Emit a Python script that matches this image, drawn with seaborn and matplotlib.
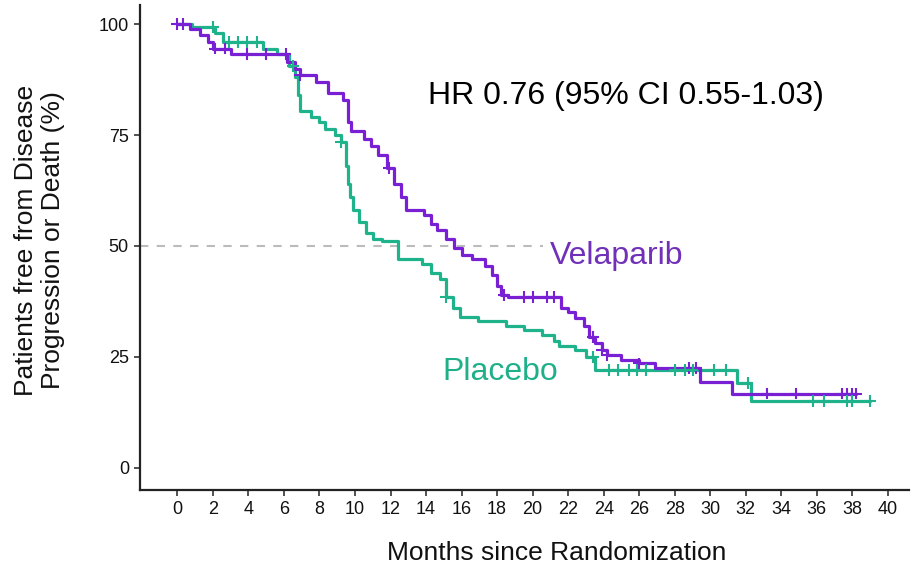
import numpy as np
import pandas as pd
import matplotlib
matplotlib.use("Agg")
import matplotlib.pyplot as plt
import seaborn as sns

# ---- data ----
vel_t = [0, 0.7, 1.3, 1.7, 2.0, 3.0, 6.2, 6.6, 6.9, 7.8, 8.5, 9.3, 9.6, 9.8, 10.5, 10.9,
         11.3, 11.8, 12.2, 12.6, 12.9, 13.9, 14.3, 14.6, 15.1, 15.6, 16.0, 16.6, 17.3,
         17.7, 18.0, 18.2, 18.6, 21.6, 22.0, 22.4, 22.9, 23.2, 23.5, 23.9, 24.2, 25.0,
         26.0, 26.9, 29.4, 31.2, 38.2]
vel_s = [100, 99, 97.5, 96, 94.5, 93.3, 91.5, 90, 88.5, 87, 84.5, 83, 78, 76, 74, 72.5,
         70.5, 67.5, 64, 61, 58, 57, 55, 53.5, 51.5, 49.5, 48, 47, 45.5,
         43.5, 41, 39, 38.5, 36, 35, 33.8, 32, 29.5, 28, 26.5, 25.3, 24.3,
         23.5, 22.5, 19.4, 16.7, 16.7]
vel_cens = [0, 0.3, 2.1, 2.7, 3.9, 5.0, 6.1, 6.9, 11.9, 18.4, 19.5, 20.0, 20.8, 21.2,
            23.4, 23.9, 24.2, 26.0, 28.8, 29.2, 33.2, 34.8, 37.4, 37.7, 38.0, 38.2]

pla_t = [0, 0.8, 2.1, 2.6, 4.8, 5.6, 6.3, 6.6, 6.8, 6.9, 7.5, 8.0, 8.3, 8.9, 9.2, 9.5,
         9.6, 9.7, 9.9, 10.2, 10.6, 11.0, 11.5, 12.4, 13.8, 14.3, 14.8, 15.1, 15.5,
         15.9, 16.9, 18.5, 19.5, 20.5, 21.2, 21.5, 22.4, 23.0, 23.5, 31.5, 32.3, 39.0]
pla_s = [100, 99.3, 98, 96, 94.5, 93.3, 90.5, 88, 84, 80.5, 79, 78, 76.3, 75, 73.5, 68,
         64, 61, 58, 55.5, 53, 51.5, 51, 47, 46, 44, 42.5, 38.5, 36,
         34, 33, 32, 31, 30, 28.5, 27.5, 26.6, 25, 22, 19.1, 15, 15]
pla_cens = [2.0, 2.9, 3.4, 3.9, 4.5, 6.5, 9.2, 15.1, 23.4, 24.3, 24.8, 25.4, 25.9, 26.4,
            28.0, 28.6, 29.0, 30.2, 30.9, 32.1, 35.8, 36.4, 37.7, 38.0, 39.0]

x_ticks = list(range(0, 42, 2))
y_ticks = [0, 25, 50, 75, 100]
arms = ["Velaparib", "Placebo"]
colors = {"Velaparib": "#7A20D4", "Placebo": "#1FB38C"}
text_colors = {"Velaparib": "#7030B8", "Placebo": "#1FB08A"}
hr_text = "HR 0.76 (95% CI 0.55-1.03)"


def step_value(ts, ss, t):
    i = np.searchsorted(np.asarray(ts), t, side="right") - 1
    return ss[max(i, 0)]


curves = pd.concat([
    pd.DataFrame({"time": vel_t, "surv": vel_s, "arm": "Velaparib"}),
    pd.DataFrame({"time": pla_t, "surv": pla_s, "arm": "Placebo"}),
], ignore_index=True)
cens = pd.concat([
    pd.DataFrame({"time": vel_cens, "surv": [step_value(vel_t, vel_s, t) for t in vel_cens],
                  "arm": "Velaparib"}),
    pd.DataFrame({"time": pla_cens, "surv": [step_value(pla_t, pla_s, t) for t in pla_cens],
                  "arm": "Placebo"}),
], ignore_index=True)

sns.set_theme(style="white")
plt.rcParams["font.family"] = ["Liberation Sans", "DejaVu Sans"]

fig = plt.figure(figsize=(9.18, 5.65), dpi=100)
ax = fig.add_axes([0.1525, 0.133, 0.838, 0.858])

ax.plot([-2.1, 20.6], [50, 50], ls=(0, (4, 4)), color="#BBBBBB", lw=1.5, zorder=1)

sns.lineplot(data=curves, x="time", y="surv", hue="arm", hue_order=arms[::-1],
             palette=colors, estimator=None, sort=False, drawstyle="steps-post",
             lw=2.3, legend=False, ax=ax, zorder=3)
sns.scatterplot(data=cens, x="time", y="surv", hue="arm", hue_order=arms[::-1],
                palette=colors, marker="+", s=70, linewidth=1.5, legend=False,
                ax=ax, zorder=4)

ax.set_xlim(-2.1, 41.2)
ax.set_ylim(-5, 104.3)
ax.set_xticks(x_ticks)
ax.set_yticks(y_ticks)
ax.tick_params(axis="both", labelsize=13, length=4, width=1.2, color="#333333",
               labelcolor="#111111", bottom=True, left=True, pad=4)
for s in ["top", "right"]:
    ax.spines[s].set_visible(False)
for s in ["left", "bottom"]:
    ax.spines[s].set_color("#222222")
    ax.spines[s].set_linewidth(1.6)

ax.set_xlabel("Months since Randomization", fontsize=19, color="#111111")
ax.set_ylabel("Patients free from Disease\nProgression or Death (%)", fontsize=19,
              color="#111111")
ax.xaxis.set_label_coords(0.5416, -0.105)
ax.yaxis.set_label_coords(-0.097, 0.515)

ax.text(14.1, 83.8, hr_text, fontsize=23, color="black", va="center", ha="left")
ax.text(20.95, 47.7, "Velaparib", fontsize=23, color=text_colors["Velaparib"],
        va="center", ha="left")
ax.text(14.9, 21.6, "Placebo", fontsize=23, color=text_colors["Placebo"],
        va="center", ha="left")

fig.savefig("out.png", dpi=100)
